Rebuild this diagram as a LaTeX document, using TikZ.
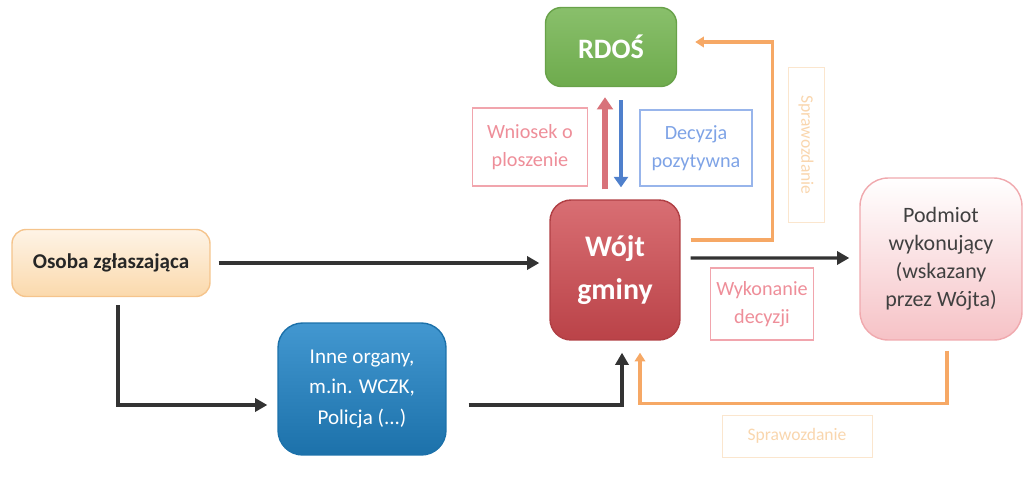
\documentclass[tikz,border=0pt]{standalone}
\usepackage{fontspec}
\setmainfont{Carlito}
\usetikzlibrary{arrows.meta}

\definecolor{peach}{HTML}{FBD9AC}
\definecolor{peachline}{HTML}{F5C48C}
\definecolor{rdosgreen}{HTML}{74B451}
\definecolor{wojtred}{HTML}{CF4A50}
\definecolor{inneblue}{HTML}{2185C8}
\definecolor{podpink}{HTML}{F6C2C6}
\definecolor{podline}{HTML}{F0A9AE}
\definecolor{darkline}{HTML}{333333}
\definecolor{orangeline}{HTML}{F6A865}
\definecolor{upred}{HTML}{D8727A}
\definecolor{downblue}{HTML}{4F80CC}
\definecolor{labpink}{HTML}{EE8E99}
\definecolor{labblue}{HTML}{7EA3E6}
\definecolor{faint}{HTML}{F9D6AE}

\begin{document}
\begin{tikzpicture}[
    % GLOBAL CFG
    x=0.02cm, y=-0.02cm,
    font=\normalsize,
    % Styles
    box/.style={% For the main boxes
        rectangle,
        align=center,
        inner sep=2pt,
        line width=0.8pt,
        },
    tag/.style={% For the outlined labels beside the arrows
        rectangle,
        draw,
        align=center,
        line width=0.6pt,
        font=\fontsize{11.5}{16}\selectfont,
        },
    faintbox/.style={% For the pale report labels
        rectangle,
        draw=faint!60,
        line width=0.5pt,
        text=faint,
        font=\fontsize{10}{12}\selectfont,
        },
    ArrowK/.style={% Dark arrows
        draw=darkline,
        line width=1.9pt,
        -{Triangle[length=7pt,width=7.5pt]},
        },
    ArrowO/.style={% Orange arrows
        draw=orangeline,
        line width=1.9pt,
        -{Triangle[length=5pt,width=6pt]},
        },
    ]
    \useasboundingbox (0,0) rectangle (1025,477);

    % Draw the boxes
    \node[box, draw=peachline, top color=white!70!peach, bottom color=peach,
          rounded corners=8pt, minimum width=3.96cm, minimum height=1.34cm,
          text=black!85, font=\bfseries\fontsize{12}{14}\selectfont]
          (osoba) at (111,263) {Osoba zgłaszająca};
    \node[box, draw=rdosgreen!90!black, top color=rdosgreen!85!white, bottom color=rdosgreen!95!black,
          rounded corners=9pt, minimum width=2.62cm, minimum height=1.58cm,
          text=white, font=\bfseries\fontsize{16}{18}\selectfont]
          (rdos) at (611,47) {RDOŚ};
    \node[box, draw=wojtred!85!black, top color=wojtred!80!white, bottom color=wojtred!90!black,
          rounded corners=12pt, minimum width=2.6cm, minimum height=2.8cm,
          text=white, font=\bfseries\fontsize{17}{24}\selectfont]
          (wojt) at (615,270) {Wójt\\gminy};
    \node[box, draw=inneblue!85!black, top color=inneblue!85!white, bottom color=inneblue!85!black,
          rounded corners=14pt, minimum width=3.36cm, minimum height=2.64cm,
          text=white, font=\fontsize{12}{17.5}\selectfont]
          (inne) at (362,389) {Inne organy,\\m.in. WCZK,\\Policja (...)};
    \node[box, draw=podline, top color=white, bottom color=podpink,
          rounded corners=16pt, minimum width=3.24cm, minimum height=3.24cm,
          text=black!75, font=\fontsize{12.5}{16}\selectfont]
          (podmiot) at (941,259) {Podmiot\\wykonujący\\(wskazany\\przez Wójta)};

    % Labels on the arrows
    \node[tag, draw=labpink!80, text=labpink, minimum width=2.3cm, minimum height=1.56cm]
          (wniosek) at (530,147) {Wniosek o\\ploszenie};
    \node[tag, draw=labblue!80, text=labblue, minimum width=2.24cm, minimum height=1.52cm]
          (decyzja) at (696,148) {Decyzja\\pozytywna};
    \node[tag, draw=labpink!80, text=labpink, minimum width=2.0cm, minimum height=1.44cm]
          (wykonanie) at (762,304) {Wykonanie\\decyzji};
    \node[faintbox, rotate=-90, minimum width=3.1cm, minimum height=0.72cm]
          (spraw1) at (806,145) {Sprawozdanie};
    \node[faintbox, minimum width=3.0cm, minimum height=0.84cm]
          (spraw2) at (797,436) {Sprawozdanie};

    % Connect all
    \draw[ArrowK, shorten <=0.16cm, shorten >=0.2cm] (osoba.east) -- (osoba.east -| wojt.west);
    \draw[ArrowK] ([xshift=0.14cm,yshift=-0.16cm]osoba.south) |- ([xshift=-0.2cm,yshift=-0.32cm]inne.west);
    \draw[ArrowK] ([xshift=0.44cm,yshift=-0.32cm]inne.east) -| ([xshift=0.14cm,yshift=-0.24cm]wojt.south);
    \draw[ArrowK] ([xshift=0.2cm,yshift=0.24cm]wojt.east) -- ([xshift=-0.2cm,yshift=0.02cm]podmiot.west);

    % Request and decision
    \draw[draw=upred, line width=3.2pt, -{Triangle[length=7pt,width=9pt]}, shorten <=0.2cm, shorten >=0.2cm]
          ([xshift=-0.2cm]wojt.north) -- ([xshift=-0.2cm]wojt.north |- rdos.south);
    \draw[draw=downblue, line width=2.6pt, -{Triangle[length=6pt,width=8pt]}, shorten <=0.26cm, shorten >=0.24cm]
          ([xshift=0.12cm]wojt.north |- rdos.south) -- ([xshift=0.12cm]wojt.north);

    % Reports
    \draw[ArrowO] ([xshift=0.2cm,yshift=0.6cm]wojt.east) -- ++(1.64cm,0) |- ([xshift=0.36cm,yshift=0.1cm]rdos.east);
    \draw[ArrowO] ([xshift=0.12cm,yshift=-0.2cm]podmiot.south) -- ++(0,-1.06cm) -| ([xshift=0.5cm,yshift=-0.24cm]wojt.south);

\end{tikzpicture}
\end{document}
